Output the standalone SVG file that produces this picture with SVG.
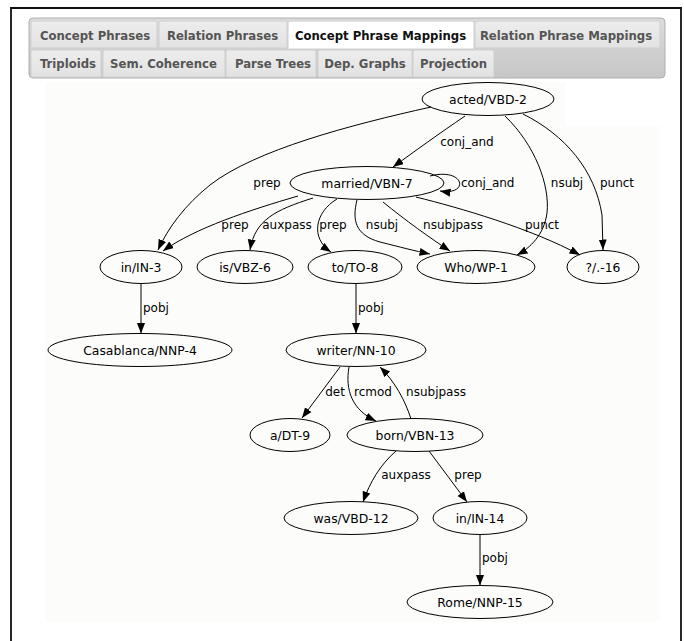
<svg xmlns="http://www.w3.org/2000/svg" width="684" height="641" viewBox="0 0 684 641">
<defs>
<linearGradient id="barg" x1="0" y1="0" x2="0" y2="1"><stop offset="0" stop-color="#dcdcdc"/><stop offset="1" stop-color="#c6c6c6"/></linearGradient>
<linearGradient id="tabg" x1="0" y1="0" x2="0" y2="1"><stop offset="0" stop-color="#ededed"/><stop offset="1" stop-color="#e2e2e2"/></linearGradient>
<marker id="ah" markerWidth="11" markerHeight="9" refX="10.5" refY="4.5" orient="auto" markerUnits="userSpaceOnUse"><path d="M0,0.5 L10.5,4.5 L0,8.5 z" fill="#000"/></marker>
</defs>
<style>
.tab{fill:url(#tabg);stroke:#d0d0d0;stroke-width:1}
.tabA{fill:#fff;stroke:#d0d0d0;stroke-width:1}
.tt{font-family:"DejaVu Sans",sans-serif;font-weight:bold;font-size:11.7px;fill:#555;text-anchor:middle}
.ttA{fill:#111}
.nd ellipse{fill:none;stroke:#000;stroke-width:1}
.nd text{font-family:"DejaVu Sans",sans-serif;font-size:12.4px;fill:#000;text-anchor:middle}
.ed path{fill:none;stroke:#000;stroke-width:1;marker-end:url(#ah)}
.el text{font-family:"DejaVu Sans",sans-serif;font-size:12px;fill:#000;text-anchor:middle}
</style>
<rect x="0" y="0" width="684" height="641" fill="#fff"/>
<path d="M11,642 V8 H681 V642" fill="none" stroke="#111" stroke-width="1.8"/>
<g id="tabs">
<rect x="29" y="18" width="636" height="60" rx="4" fill="url(#barg)" stroke="#b0b0b0"/>
<path class="tab" d="M31,48 V23 Q31,21 33,21 H155 Q157,21 157,23 V48 Z"/>
<path class="tab" d="M159,48 V23 Q159,21 161,21 H285 Q287,21 287,23 V48 Z"/>
<path class="tabA" d="M288,49 V23 Q288,21 290,21 H472 Q474,21 474,23 V49 Z"/>
<path class="tab" d="M475,48 V23 Q475,21 477,21 H658 Q660,21 660,23 V48 Z"/>
<path class="tab" d="M31,77 V52 Q31,50 33,50 H99 Q101,50 101,52 V77 Z"/>
<path class="tab" d="M103,77 V52 Q103,50 105,50 H223 Q225,50 225,52 V77 Z"/>
<path class="tab" d="M226,77 V52 Q226,50 228,50 H314 Q316,50 316,52 V77 Z"/>
<path class="tab" d="M318,77 V52 Q318,50 320,50 H410 Q412,50 412,52 V77 Z"/>
<path class="tab" d="M413,77 V52 Q413,50 415,50 H492 Q494,50 494,52 V77 Z"/>
<text class="tt" x="95" y="39.5">Concept Phrases</text>
<text class="tt" x="222.5" y="39.5">Relation Phrases</text>
<text class="tt ttA" x="380.5" y="39.5">Concept Phrase Mappings</text>
<text class="tt" x="566" y="39.5">Relation Phrase Mappings</text>
<text class="tt" x="68" y="67.5">Triploids</text>
<text class="tt" x="163.5" y="67.5">Sem. Coherence</text>
<text class="tt" x="273" y="67.5">Parse Trees</text>
<text class="tt" x="365" y="67.5">Dep. Graphs</text>
<text class="tt" x="453.5" y="67.5">Projection</text>
</g>
<polygon points="45,82 565,82 565,126 660,126 660,622 45,622" fill="#fcfdfb"/>
<g id="connectors">
<g class="ed">
<path d="M431,107 C350,125 255,150 210,185 C185,205 168,228 158,250"/>
<path d="M298,196 C250,210 195,228 163,251"/>
<path d="M313,198 C275,210 255,220 250,250"/>
<path d="M337,199 C315,212 310,238 331,252"/>
<path d="M357,200 C352,220 355,235 380,242 C400,247 415,251 430,254"/>
<path d="M383,202 C405,220 430,238 450,251"/>
<path d="M416,197 C460,208 530,228 580,255"/>
<path d="M430,176 C465,167 470,196 440,191"/>
<path d="M465,116 C440,133 415,151 393,167"/>
<path d="M505,116 C535,145 550,185 547,213 C544,235 530,248 517,255"/>
<path d="M523,114 C565,135 595,170 602,215 L603,250"/>
<path d="M141,283.5 L141,333.5"/>
<path d="M356,283.5 L356,333.5"/>
<path d="M340,367 L302,418"/>
<path d="M349,367 C345,390 352,410 376,421"/>
<path d="M411,419 C405,400 395,382 380,367"/>
<path d="M396,451 C380,465 370,482 363,502"/>
<path d="M429,451 L467,502"/>
<path d="M480,534.5 L480,585.5"/>
</g>
<g class="el">
<text x="267" y="187">prep</text>
<text x="235" y="229">prep</text>
<text x="287" y="229">auxpass</text>
<text x="333" y="229">prep</text>
<text x="382" y="229">nsubj</text>
<text x="453" y="229">nsubjpass</text>
<text x="542" y="229">punct</text>
<text x="461" y="187" style="text-anchor:start">conj_and</text>
<text x="467" y="146">conj_and</text>
<text x="567" y="187">nsubj</text>
<text x="617" y="187">punct</text>
<text x="143" y="312" style="text-anchor:start">pobj</text>
<text x="358" y="312" style="text-anchor:start">pobj</text>
<text x="335" y="396">det</text>
<text x="373" y="396">rcmod</text>
<text x="436" y="396">nsubjpass</text>
<text x="406" y="479">auxpass</text>
<text x="468" y="479">prep</text>
<text x="482" y="562" style="text-anchor:start">pobj</text>
</g>
</g>
<g id="n_acted" class="nd"><ellipse cx="488" cy="99" rx="66" ry="16.5"/><text x="488" y="103.5">acted/VBD-2</text></g>
<g id="n_married" class="nd"><ellipse cx="367" cy="183" rx="77" ry="16.5"/><text x="367" y="187.5">married/VBN-7</text></g>
<g id="n_in3" class="nd"><ellipse cx="141" cy="267" rx="41" ry="16.5"/><text x="141" y="271.5">in/IN-3</text></g>
<g id="n_is6" class="nd"><ellipse cx="245" cy="267" rx="48" ry="16.5"/><text x="245" y="271.5">is/VBZ-6</text></g>
<g id="n_to8" class="nd"><ellipse cx="355" cy="267" rx="47" ry="16.5"/><text x="355" y="271.5">to/TO-8</text></g>
<g id="n_who1" class="nd"><ellipse cx="476" cy="267" rx="59" ry="16.5"/><text x="476" y="271.5">Who/WP-1</text></g>
<g id="n_q16" class="nd"><ellipse cx="603" cy="267" rx="36" ry="16.5"/><text x="603" y="271.5">?/.-16</text></g>
<g id="n_casa" class="nd"><ellipse cx="140" cy="350" rx="92" ry="16.5"/><text x="140" y="354.5">Casablanca/NNP-4</text></g>
<g id="n_writer" class="nd"><ellipse cx="356" cy="350" rx="70" ry="16.5"/><text x="356" y="354.5">writer/NN-10</text></g>
<g id="n_a9" class="nd"><ellipse cx="290" cy="435" rx="40" ry="16.5"/><text x="290" y="439.5">a/DT-9</text></g>
<g id="n_born" class="nd"><ellipse cx="415" cy="435" rx="68" ry="16.5"/><text x="415" y="439.5">born/VBN-13</text></g>
<g id="n_was12" class="nd"><ellipse cx="351" cy="518" rx="67" ry="16.5"/><text x="351" y="522.5">was/VBD-12</text></g>
<g id="n_in14" class="nd"><ellipse cx="480" cy="518" rx="47" ry="16.5"/><text x="480" y="522.5">in/IN-14</text></g>
<g id="n_rome" class="nd"><ellipse cx="480" cy="602" rx="73" ry="16.5"/><text x="480" y="606.5">Rome/NNP-15</text></g>
</svg>
